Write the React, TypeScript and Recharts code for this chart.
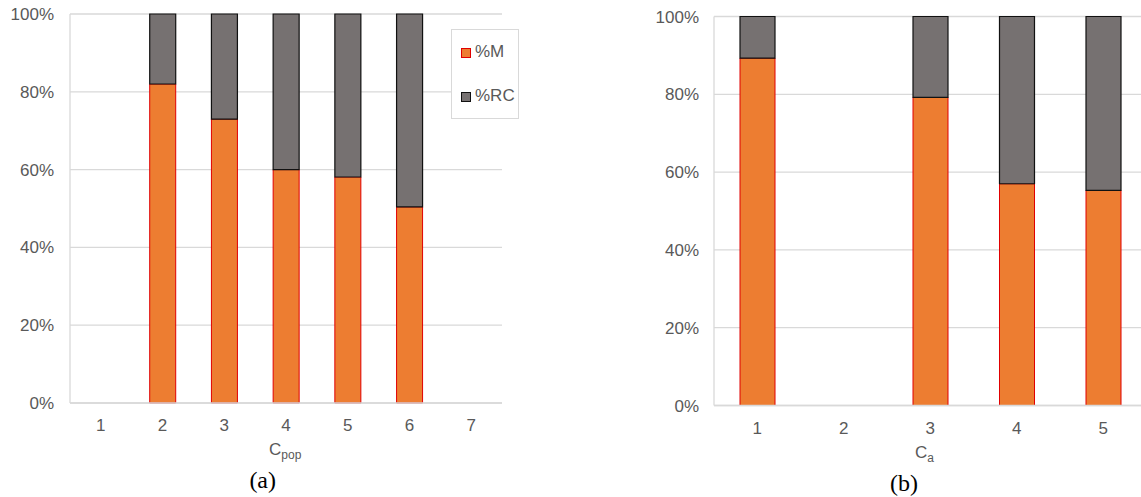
import React from 'react';
import { BarChart, Bar, XAxis, YAxis, CartesianGrid, Legend } from 'recharts';

// Panel (a): share of %M and %RC per C_pop class
const popCategories = ['1', '2', '3', '4', '5', '6', '7'];
const popM = [0, 82, 73, 60, 58.1, 50.4, 0];
const popRC = [0, 18, 27, 40, 41.9, 49.6, 0];

// Panel (b): share of %M and %RC per C_a class
const aCategories = ['1', '2', '3', '4', '5'];
const aM = [89.3, 0, 79.2, 57.0, 55.3];
const aRC = [10.7, 0, 20.8, 43.0, 44.7];

const yTicks = [0, 20, 40, 60, 80, 100];

const popData = popCategories.map((c, i) => ({ cat: c, M: popM[i], RC: popRC[i] }));
const aData = aCategories.map((c, i) => ({ cat: c, M: aM[i], RC: aRC[i] }));

const FONT = '"Liberation Sans", Arial, sans-serif';
const SERIF = '"Liberation Serif", "Times New Roman", serif';
const TEXT = '#595959';
const GRID = '#d9d9d9';
const ORANGE = '#ED7D31';
const ORANGE_EDGE = '#E00000';
const GREY = '#767171';
const GREY_EDGE = '#111111';

const tickStyle = { fill: TEXT, fontSize: 17, fontFamily: FONT };

const LegendBox = () => (
  <div
    style={{
      width: 66,
      height: 88,
      border: `1px solid ${GRID}`,
      background: '#fff',
      position: 'relative',
      fontFamily: FONT,
      fontSize: 17,
      color: TEXT,
    }}
  >
    {[
      { label: '%M', fill: ORANGE, edge: ORANGE_EDGE, top: 18 },
      { label: '%RC', fill: GREY, edge: GREY_EDGE, top: 62 },
    ].map((it) => (
      <div key={it.label}>
        <div
          style={{
            position: 'absolute',
            left: 9,
            top: it.top,
            width: 8,
            height: 8,
            background: it.fill,
            border: `1px solid ${it.edge}`,
          }}
        />
        <div style={{ position: 'absolute', left: 23, top: it.top - 6, lineHeight: '20px', whiteSpace: 'nowrap' }}>
          {it.label}
        </div>
      </div>
    ))}
  </div>
);

type PanelProps = {
  data: { cat: string; M: number; RC: number }[];
  width: number;
  margin: { top: number; right: number; bottom: number; left: number };
  yAxisWidth: number;
  barSize: number;
  tickMargin: number;
  withLegend?: boolean;
  rightEdge?: boolean;
};

const Panel = ({ data, width, margin, yAxisWidth, barSize, tickMargin, withLegend, rightEdge }: PanelProps) => (
  <BarChart width={width} height={440} data={data} margin={margin} barSize={barSize}>
    <CartesianGrid horizontal vertical={false} stroke={GRID} strokeWidth={1.3} />
    <XAxis
      dataKey="cat"
      height={30}
      tickLine={false}
      axisLine={{ stroke: GRID, strokeWidth: 1.3 }}
      tick={tickStyle}
      tickMargin={10}
      interval={0}
    />
    <YAxis
      width={yAxisWidth}
      domain={[0, 100]}
      ticks={yTicks}
      tickFormatter={(v: number) => `${v}%`}
      tickLine={false}
      axisLine={{ stroke: GRID, strokeWidth: 1.3 }}
      tick={tickStyle}
      tickMargin={tickMargin}
    />
    {rightEdge && (
      <YAxis
        yAxisId="edge"
        orientation="right"
        width={0}
        domain={[0, 100]}
        tick={false}
        tickLine={false}
        axisLine={{ stroke: GRID, strokeWidth: 1.3 }}
      />
    )}
    <Bar dataKey="M" name="%M" stackId="s" fill={ORANGE} stroke={ORANGE_EDGE} strokeWidth={1} isAnimationActive={false} />
    <Bar dataKey="RC" name="%RC" stackId="s" fill={GREY} stroke={GREY_EDGE} strokeWidth={1.2} isAnimationActive={false} />
    {withLegend && (
      <Legend
        layout="vertical"
        align="center"
        verticalAlign="middle"
        content={() => <LegendBox />}
        wrapperStyle={{ left: 451, top: 29, width: 68, height: 90 }}
      />
    )}
  </BarChart>
);

export default function App() {
  return (
    <div
      style={{
        position: 'absolute',
        left: 0,
        top: 0,
        width: 1141,
        height: 497,
        overflow: 'hidden',
        background: '#fff',
      }}
    >
      <div style={{ position: 'absolute', left: 0, top: 0 }}>
        <Panel
          data={popData}
          width={520}
          margin={{ top: 14, right: 18, bottom: 7, left: 0 }}
          yAxisWidth={70}
          barSize={26}
          tickMargin={10}
          withLegend
          rightEdge
        />
      </div>
      <div style={{ position: 'absolute', left: 630, top: 0 }}>
        <Panel
          data={aData}
          width={520}
          margin={{ top: 16.5, right: 3.5, bottom: 4.5, left: 0 }}
          yAxisWidth={84}
          barSize={35}
          tickMargin={9}
        />
      </div>
      <svg
        width={1141}
        height={497}
        style={{ position: 'absolute', left: 0, top: 0, pointerEvents: 'none' }}
      >
        <text x={269} y={455} fill={TEXT} fontFamily={FONT} fontSize={17}>
          C
          <tspan fontSize={12} dy={4}>pop</tspan>
        </text>
        <text x={915} y={457.5} fill={TEXT} fontFamily={FONT} fontSize={17}>
          C
          <tspan fontSize={12} dy={4}>a</tspan>
        </text>
        <text x={262.7} y={488} textAnchor="middle" fill="#000" fontFamily={SERIF} fontSize={24}>
          (a)
        </text>
        <text x={904} y={491} textAnchor="middle" fill="#000" fontFamily={SERIF} fontSize={24}>
          (b)
        </text>
      </svg>
    </div>
  );
}
